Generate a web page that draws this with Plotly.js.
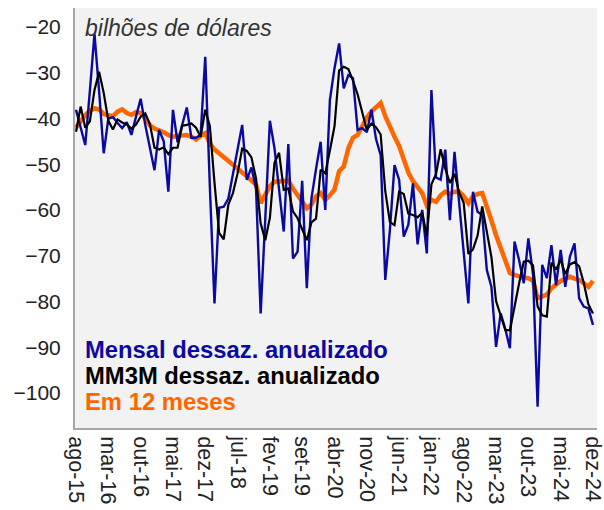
<!DOCTYPE html>
<html>
<head>
<meta charset="utf-8">
<script src="https://cdn.plot.ly/plotly-3.0.1.min.js"></script>
<style>html,body{margin:0;padding:0;background:#fff;}#chart{width:604px;height:510px;}</style>
</head>
<body>
<div id="chart"></div>
<script>
// Monthly index 0 = ago-15 ... 112 = dez-24
var tickPositions = [0, 7, 14, 21, 28, 35, 42, 49, 56, 63, 70, 77, 84, 91, 98, 105, 112];
var tickLabels = ['ago-15','mar-16','out-16','mai-17','dez-17','jul-18','fev-19','set-19','abr-20','nov-20','jun-21','jan-22','ago-22','mar-23','out-23','mai-24','dez-24'];

var mensal = [
 -38.1,-42,-45.8,-34,-21.5,-34,-47.6,-40,-39.7,-41,
 -42.1,-40.8,-43.6,-39.6,-35.7,-41.4,-46.5,-51.3,-42.5,-45,
 -56,-38.1,-45.2,-41.4,-37.6,-44.2,-44.2,-43.6,-26.5,-55,
 -80.4,-59.5,-59.3,-57.5,-52,-46.5,-41.4,-53.4,-50.7,-55.3,
 -82.6,-62,-40.5,-46.5,-55.6,-64.7,-45.6,-70.6,-69.1,-53.6,
 -77.1,-57.5,-51,-45.1,-60,-36,-29,-23.6,-33.4,-30.5,
 -31.2,-42.5,-42.1,-43,-38.1,-44.5,-48,-75.3,-64.4,-50.2,
 -53.4,-65.8,-63.2,-54.2,-67.5,-60,-69.5,-33.8,-52.9,-53.4,
 -46.8,-62.2,-47.3,-58.8,-69.5,-80.4,-56,-60.4,-61.1,-73.1,
 -76.8,-89.9,-82.6,-86,-90.2,-66.9,-71,-76,-66.2,-74,
 -103,-72,-74.9,-67.7,-76.4,-68.7,-76.8,-70.2,-67.3,-79.3,
 -81.1,-81.5,-85.1
];

var mm3m = [
 -42.9,-37.4,-42.0,-40.6,-33.8,-29.8,-34.4,-40.5,-42.4,-40.2,
 -40.9,-41.3,-42.2,-41.3,-39.6,-38.9,-41.2,-46.4,-46.8,-46.3,
 -47.8,-46.4,-46.4,-41.6,-41.4,-41.1,-42.0,-44.0,-38.1,-41.7,
 -54.0,-65.0,-66.4,-58.8,-56.3,-52.0,-46.6,-47.1,-48.5,-53.1,
 -62.9,-66.6,-61.7,-49.7,-47.5,-55.6,-55.3,-60.3,-61.8,-64.4,
 -66.6,-62.7,-61.9,-51.2,-52.0,-47.0,-41.7,-29.5,-28.7,-29.2,
 -31.7,-34.7,-38.6,-42.5,-41.1,-41.9,-43.5,-55.9,-62.6,-63.3,
 -56.0,-56.5,-60.8,-61.1,-61.6,-60.6,-65.7,-54.4,-52.1,-46.7,
 -51.0,-54.1,-52.1,-56.1,-58.5,-69.6,-68.6,-65.6,-59.2,-64.9,
 -70.3,-79.9,-83.1,-86.2,-86.3,-81.0,-76.0,-71.3,-71.1,-72.1,
 -81.1,-83.0,-83.3,-71.5,-73.0,-70.9,-74.0,-71.9,-71.4,-72.3,
 -75.9,-80.6,-82.6
];

var em12 = [
 -42.0,-40.5,-39.3,-38.3,-37.8,-38.0,-39.0,-39.3,-39.5,-38.5,
 -38.0,-38.8,-39.2,-38.6,-38.8,-40.0,-41.5,-42.2,-42.5,-43.0,
 -43.6,-44.0,-43.8,-43.6,-43.6,-44.0,-44.6,-43.8,-43.2,-45.5,
 -46.8,-47.6,-48.5,-49.3,-50.2,-51.0,-51.8,-52.6,-53.6,-54.5,
 -58.5,-56.5,-54.8,-53.8,-53.8,-53.8,-53.6,-55.3,-56.8,-58.0,
 -59.6,-58.8,-57.0,-56.3,-57.8,-56.8,-55.5,-51.5,-50.5,-46.5,
 -44.2,-43.6,-41.5,-39.8,-38.5,-37.5,-36.6,-39.5,-42.0,-44.0,
 -46.0,-48.7,-51.8,-53.7,-55.0,-56.3,-59.0,-57.8,-58.2,-56.8,
 -56.0,-56.5,-56.0,-56.0,-57.0,-58.5,-57.0,-56.5,-56.3,-59.0,
 -62.3,-65.5,-68.3,-70.5,-73.8,-74.2,-74.6,-74.8,-74.9,-75.5,
 -79.3,-79.0,-78.5,-77.1,-76.2,-75.5,-75.0,-74.6,-75.0,-75.3,
 -76.0,-76.8,-75.5
];

var idx = mensal.map(function(_, i){ return i; });
var FONT = 'Liberation Sans, Arial, sans-serif';
var BLUE = '#0a0aa0', ORANGE = '#ff6600';

var traces = [
  {x: idx, y: em12, type: 'scatter', mode: 'lines', name: 'Em 12 meses',
   line: {color: ORANGE, width: 4.5}},
  {x: idx, y: mensal, type: 'scatter', mode: 'lines', name: 'Mensal dessaz. anualizado',
   line: {color: BLUE, width: 2.4}},
  {x: idx, y: mm3m, type: 'scatter', mode: 'lines', name: 'MM3M dessaz. anualizado',
   line: {color: '#000000', width: 2.2}}
];

var layout = {
  width: 604, height: 510,
  margin: {l: 75, r: 7, t: 8, b: 82, pad: 0},
  paper_bgcolor: '#ffffff',
  plot_bgcolor: '#f2f2f2',
  showlegend: false,
  font: {family: FONT, color: '#222'},
  xaxis: {
    range: [-0.22, 112.87],
    tickmode: 'array', tickvals: tickPositions, ticktext: tickLabels,
    tickangle: 90, tickfont: {size: 21.5, color: '#222', family: FONT},
    showgrid: false, zeroline: false,
    showline: true, linecolor: '#a6a6a6', linewidth: 2,
    ticks: '', ticklabelstandoff: 2, ticklabeloverflow: 'allow'
  },
  yaxis: {
    range: [-107.65, -15.85],
    tickmode: 'array', tickvals: [-100,-90,-80,-70,-60,-50,-40,-30,-20],
    tickfont: {size: 21, color: '#222', family: FONT},
    showgrid: false, zeroline: false,
    showline: true, linecolor: '#a6a6a6', linewidth: 2,
    ticks: '', ticklabelstandoff: 8
  },
  annotations: [
    {xref: 'paper', yref: 'paper', x: 0.015, y: 0.952, xanchor: 'left', yanchor: 'middle',
     text: '<i>bilhões de dólares</i>', showarrow: false,
     font: {size: 23, color: '#333', family: FONT}},
    {xref: 'paper', yref: 'paper', x: 0.015, y: 0.186, xanchor: 'left', yanchor: 'middle',
     text: '<b>Mensal dessaz. anualizado</b>', showarrow: false,
     font: {size: 23.8, color: BLUE, family: FONT}},
    {xref: 'paper', yref: 'paper', x: 0.015, y: 0.124, xanchor: 'left', yanchor: 'middle',
     text: '<b>MM3M dessaz. anualizado</b>', showarrow: false,
     font: {size: 23.8, color: '#000', family: FONT}},
    {xref: 'paper', yref: 'paper', x: 0.015, y: 0.064, xanchor: 'left', yanchor: 'middle',
     text: '<b>Em 12 meses</b>', showarrow: false,
     font: {size: 23.8, color: ORANGE, family: FONT}}
  ]
};

Plotly.newPlot('chart', traces, layout, {staticPlot: true, displayModeBar: false});
</script>
</body>
</html>
